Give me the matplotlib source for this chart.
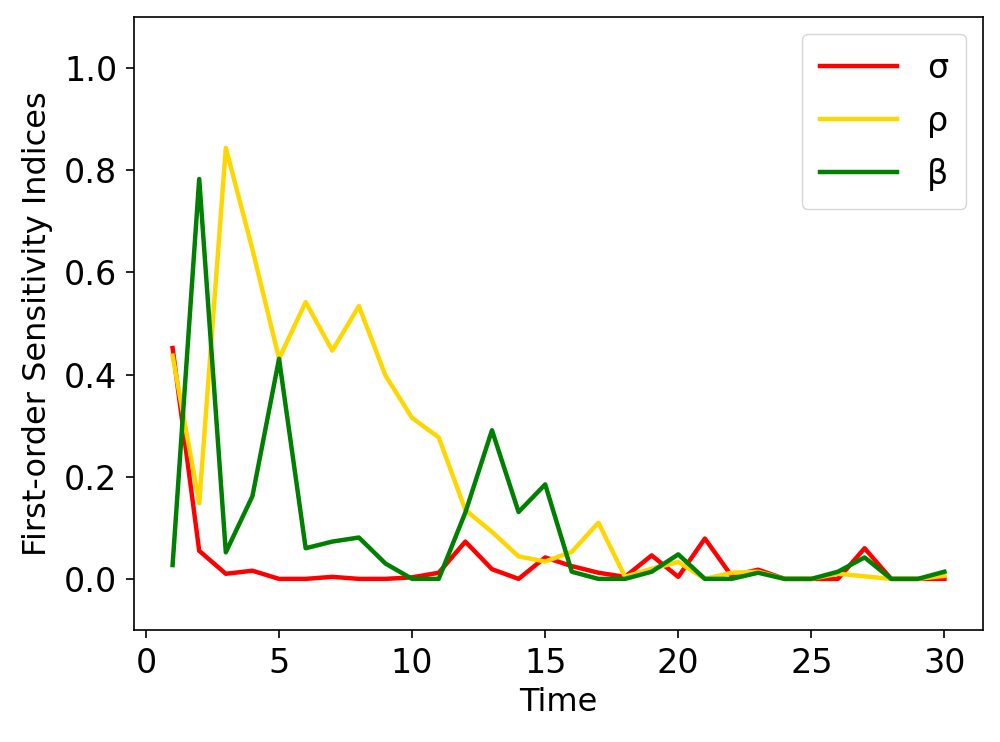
import matplotlib
matplotlib.use("Agg")
import matplotlib.pyplot as plt

time = list(range(1, 31))

sigma = [
    0.452, 0.055, 0.010, 0.016, 0.000, 0.000, 0.004, 0.000, 0.000, 0.003,
    0.012, 0.073, 0.019, 0.000, 0.042, 0.025, 0.012, 0.004, 0.046, 0.004,
    0.079, 0.006, 0.018, 0.000, 0.000, 0.000, 0.060, 0.000, 0.000, 0.000,
]
rho = [
    0.437, 0.148, 0.844, 0.645, 0.431, 0.542, 0.447, 0.534, 0.398, 0.315,
    0.277, 0.135, 0.092, 0.044, 0.034, 0.053, 0.110, 0.004, 0.020, 0.033,
    0.000, 0.012, 0.014, 0.000, 0.000, 0.010, 0.005, 0.000, 0.000, 0.006,
]
beta = [
    0.027, 0.783, 0.052, 0.162, 0.431, 0.060, 0.073, 0.081, 0.030, 0.000,
    0.000, 0.130, 0.291, 0.131, 0.185, 0.014, 0.000, 0.000, 0.014, 0.048,
    0.000, 0.000, 0.012, 0.000, 0.000, 0.014, 0.042, 0.000, 0.000, 0.014,
]

labels = ["σ", "ρ", "β"]
colors = ["red", "gold", "green"]

figure, axis = plt.subplots(figsize=(10, 7.42), dpi=100)
figure.subplots_adjust(left=0.134, right=0.983, bottom=0.151, top=0.977)

for series, label, color in zip([sigma, rho, beta], labels, colors):
    axis.plot(time, series, color=color, linewidth=3.2, label=label)

axis.set_ylim(-0.1, 1.1)
axis.set_xlabel("Time", fontsize=23, labelpad=5)
axis.set_ylabel("First-order Sensitivity Indices", fontsize=23, labelpad=8)
axis.tick_params(labelsize=24, width=1.2, length=6, pad=6)
for spine in axis.spines.values():
    spine.set_linewidth(1.2)

axis.legend(
    loc="upper right",
    fontsize=24,
    handlelength=2.3,
    labelspacing=0.6,
    borderpad=0.55,
    handletextpad=0.9,
)

figure.savefig("out.png", dpi=100)
plt.close(figure)
